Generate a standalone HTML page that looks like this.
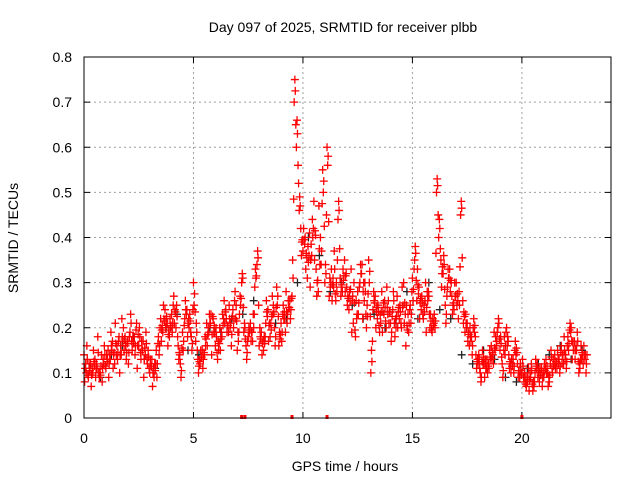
<!DOCTYPE html>
<html><head><meta charset="utf-8"><style>
html,body{margin:0;padding:0;background:#fff;}
svg{display:block;font-family:"Liberation Sans","DejaVu Sans",sans-serif;}
</style></head><body>
<svg id="chart" width="640" height="480">
<rect width="640" height="480" fill="#fff"/>
<g id="grid"></g>
<g id="ticks"></g>
<g id="black"></g>
<g id="red"></g>
<rect x="84" y="57" width="527" height="361" fill="none" stroke="#000" stroke-width="1"/>
<text x="343" y="32" font-size="14" text-anchor="middle">Day 097 of 2025, SRMTID for receiver plbb</text>
<text x="345" y="471" font-size="14" text-anchor="middle">GPS time / hours</text>
<text transform="translate(18,238) rotate(-90)" font-size="14" text-anchor="middle">SRMTID / TECUs</text>
</svg>
<script>
const xTicks=[0,5,10,15,20];
const yTicks=[0,0.1,0.2,0.3,0.4,0.5,0.6,0.7,0.8];
const yTickLabels=["0","0.1","0.2","0.3","0.4","0.5","0.6","0.7","0.8"];
const redA=[.14,.10,.09,.12,.10,.13,.11,.09,.14,.12,
.11,.15,.13,.17,.12,.16,.18,.14,.20,.16,
.17,.19,.15,.18,.21,.16,.13,.17,.14,.12,
.10,.13,.09,.15,.18,.22,.19,.24,.21,.18,
.23,.27,.20,.16,.12,.19,.22,.24,.20,.18,
.30,.17,.13,.12,.15,.14,.21,.19,.23,.22,
.16,.13,.20,.18,.26,.22,.19,.21,.24,.28,
.15,.23,.30,.19,.16,.18,.21,.17,.29,.34,
.16,.19,.15,.21,.24,.18,.27,.20,.29,.16,
.21,.25,.19,.23,.26,.27,.70,.60,.52,.42,
.37,.40,.31,.41,.36,.48,.33,.28,.40,.55,
.30,.60,.27,.33,.29,.26,.44,.31,.28,.35,
.29,.24,.33,.21,.18,.28,.30,.34,.26,.20,
.35,.10,.24,.27,.22,.19,.28,.23,.20,.26,
.21,.24,.18,.27,.22,.20,.30,.16,.23,.25,
.31,.35,.26,.29,.24,.22,.30,.26,.20,.19,
.23,.50,.40,.35,.32,.25,.29,.33,.27,.24,
.30,.22,.45,.26,.19,.21,.16,.18,.22,.14,
.12,.10,.15,.09,.13,.11,.16,.12,.18,.20,
.15,.12,.18,.20,.14,.10,.13,.17,.12,.09,
.10,.08,.07,.11,.09,.06,.10,.12,.08,.11,
.09,.13,.07,.12,.10,.14,.11,.13,.16,.12,
.14,.18,.21,.13,.17,.15,.10,.16,.12,.14];
const redB=[.08,.16,.12,.07,.15,.09,.18,.10,.08,.16,
.14,.09,.19,.11,.21,.13,.10,.22,.15,.13,
.12,.23,.18,.14,.11,.20,.17,.09,.19,.15,
.13,.07,.12,.09,.14,.17,.25,.20,.16,.22,
.19,.21,.25,.13,.09,.15,.26,.18,.23,.15,
.25,.21,.10,.15,.11,.18,.16,.23,.14,.19,
.20,.17,.15,.23,.21,.19,.25,.16,.20,.22,
.19,.27,.32,.21,.13,.20,.17,.23,.33,.37,
.20,.14,.18,.26,.17,.21,.23,.16,.25,.19,
.17,.22,.28,.26,.22,.35,.75,.66,.46,.36,
.42,.33,.38,.29,.44,.35,.27,.47,.34,.50,
.34,.56,.31,.26,.37,.30,.48,.27,.33,.28,
.25,.28,.19,.30,.26,.23,.34,.22,.30,.25,
.30,.15,.28,.20,.25,.23,.19,.26,.29,.21,
.17,.28,.22,.20,.25,.29,.21,.25,.19,.21,
.26,.38,.33,.22,.27,.25,.19,.28,.23,.22,
.20,.53,.44,.29,.36,.21,.33,.28,.23,.30,
.25,.28,.48,.21,.23,.17,.20,.14,.19,.11,
.14,.08,.12,.13,.10,.15,.13,.19,.16,.22,
.18,.09,.14,.16,.11,.13,.10,.14,.09,.12,
.13,.10,.09,.06,.12,.08,.13,.09,.11,.07,
.12,.10,.09,.15,.13,.11,.15,.10,.12,.18,
.11,.15,.19,.17,.13,.19,.12,.13,.16,.10];
const blackVals=[.11,.09,.14,.16,.18,.13,.11,.20,.23,.15,.14,.20,.19,.22,.23,.26,.17,.21,.22,.30,.40,.36,.28,.30,.25,.22,.23,.20,.21,.28,.22,.30,.24,.22,.14,.12,.15,.13,.09,.08,.11,.12,.14,.16,.13,.15];
const zeroTimes=[7.2,7.35,9.5,11.1,20.0];

const NS="http://www.w3.org/2000/svg";
const X0=84,X1=611,Y0=418,Y1=57,XMAX=24.07,YMAX=0.8;
function xs(v){return X0+(X1-X0)*v/XMAX;}
function ys(v){return Y0-(Y0-Y1)*v/YMAX;}
function mk(tag,attrs,parent){const e=document.createElementNS(NS,tag);for(const k in attrs)e.setAttribute(k,attrs[k]);parent.appendChild(e);return e;}
const grid=document.getElementById('grid'),ticks=document.getElementById('ticks');
xTicks.forEach((t,i)=>{
  const x=xs(t);
  if(t>0){const g=mk('line',{x1:x,x2:x,y1:Y1,y2:Y0,stroke:'#a0a0a0','stroke-dasharray':'2,3'},grid);
  
  }
  mk('line',{x1:x,x2:x,y1:Y0,y2:Y0-6,stroke:'#000'},ticks);
  mk('line',{x1:x,x2:x,y1:Y1,y2:Y1+6,stroke:'#000'},ticks);
  const l=mk('text',{x:x,y:Y0+25,'font-size':14,'text-anchor':'middle'},ticks);
  l.textContent=String(t);
  
  
});
yTicks.forEach((t,i)=>{
  const y=ys(t);
  if(t>0&&t<YMAX){const g=mk('line',{x1:X0,x2:X1,y1:y,y2:y,stroke:'#a0a0a0','stroke-dasharray':'2,3'},grid);
  
  }
  mk('line',{x1:X0,x2:X0+6,y1:y,y2:y,stroke:'#000'},ticks);
  mk('line',{x1:X1,x2:X1-6,y1:y,y2:y,stroke:'#000'},ticks);
  const l=mk('text',{x:X0-12,y:y+5,'font-size':14,'text-anchor':'end'},ticks);
  l.textContent=yTickLabels[i];
  
  
});
function cross(parent,t,v,color){
  const x=xs(t),y=ys(v);
  const p=mk('path',{d:`M${x-4},${y}H${x+4}M${x},${y-4}V${y+4}`,stroke:color,'stroke-width':1.3,fill:'none'},parent);
  
  
}
const black=document.getElementById('black'),red=document.getElementById('red');
blackVals.forEach((v,i)=>cross(black,i*0.5+0.25,v,'#222'));
redA.forEach((v,i)=>{
  cross(red,i*0.1,v,'#ff0000');
  cross(red,i*0.1+0.05,(v+redB[i])/2,'#ff0000');
  const nb=redA[Math.min(i+1,redA.length-1)];
  cross(red,i*0.1+0.075,(v+nb)/2,'#ff0000');
});
redB.forEach((v,i)=>cross(red,i*0.1+0.03,v,'#ff0000'));
zeroTimes.forEach(t=>{
  const r=mk('rect',{x:xs(t)-1.5,y:Y0-3,width:3,height:4,fill:'#ff0000'},red);
  
  
});
</script>
</body></html>
